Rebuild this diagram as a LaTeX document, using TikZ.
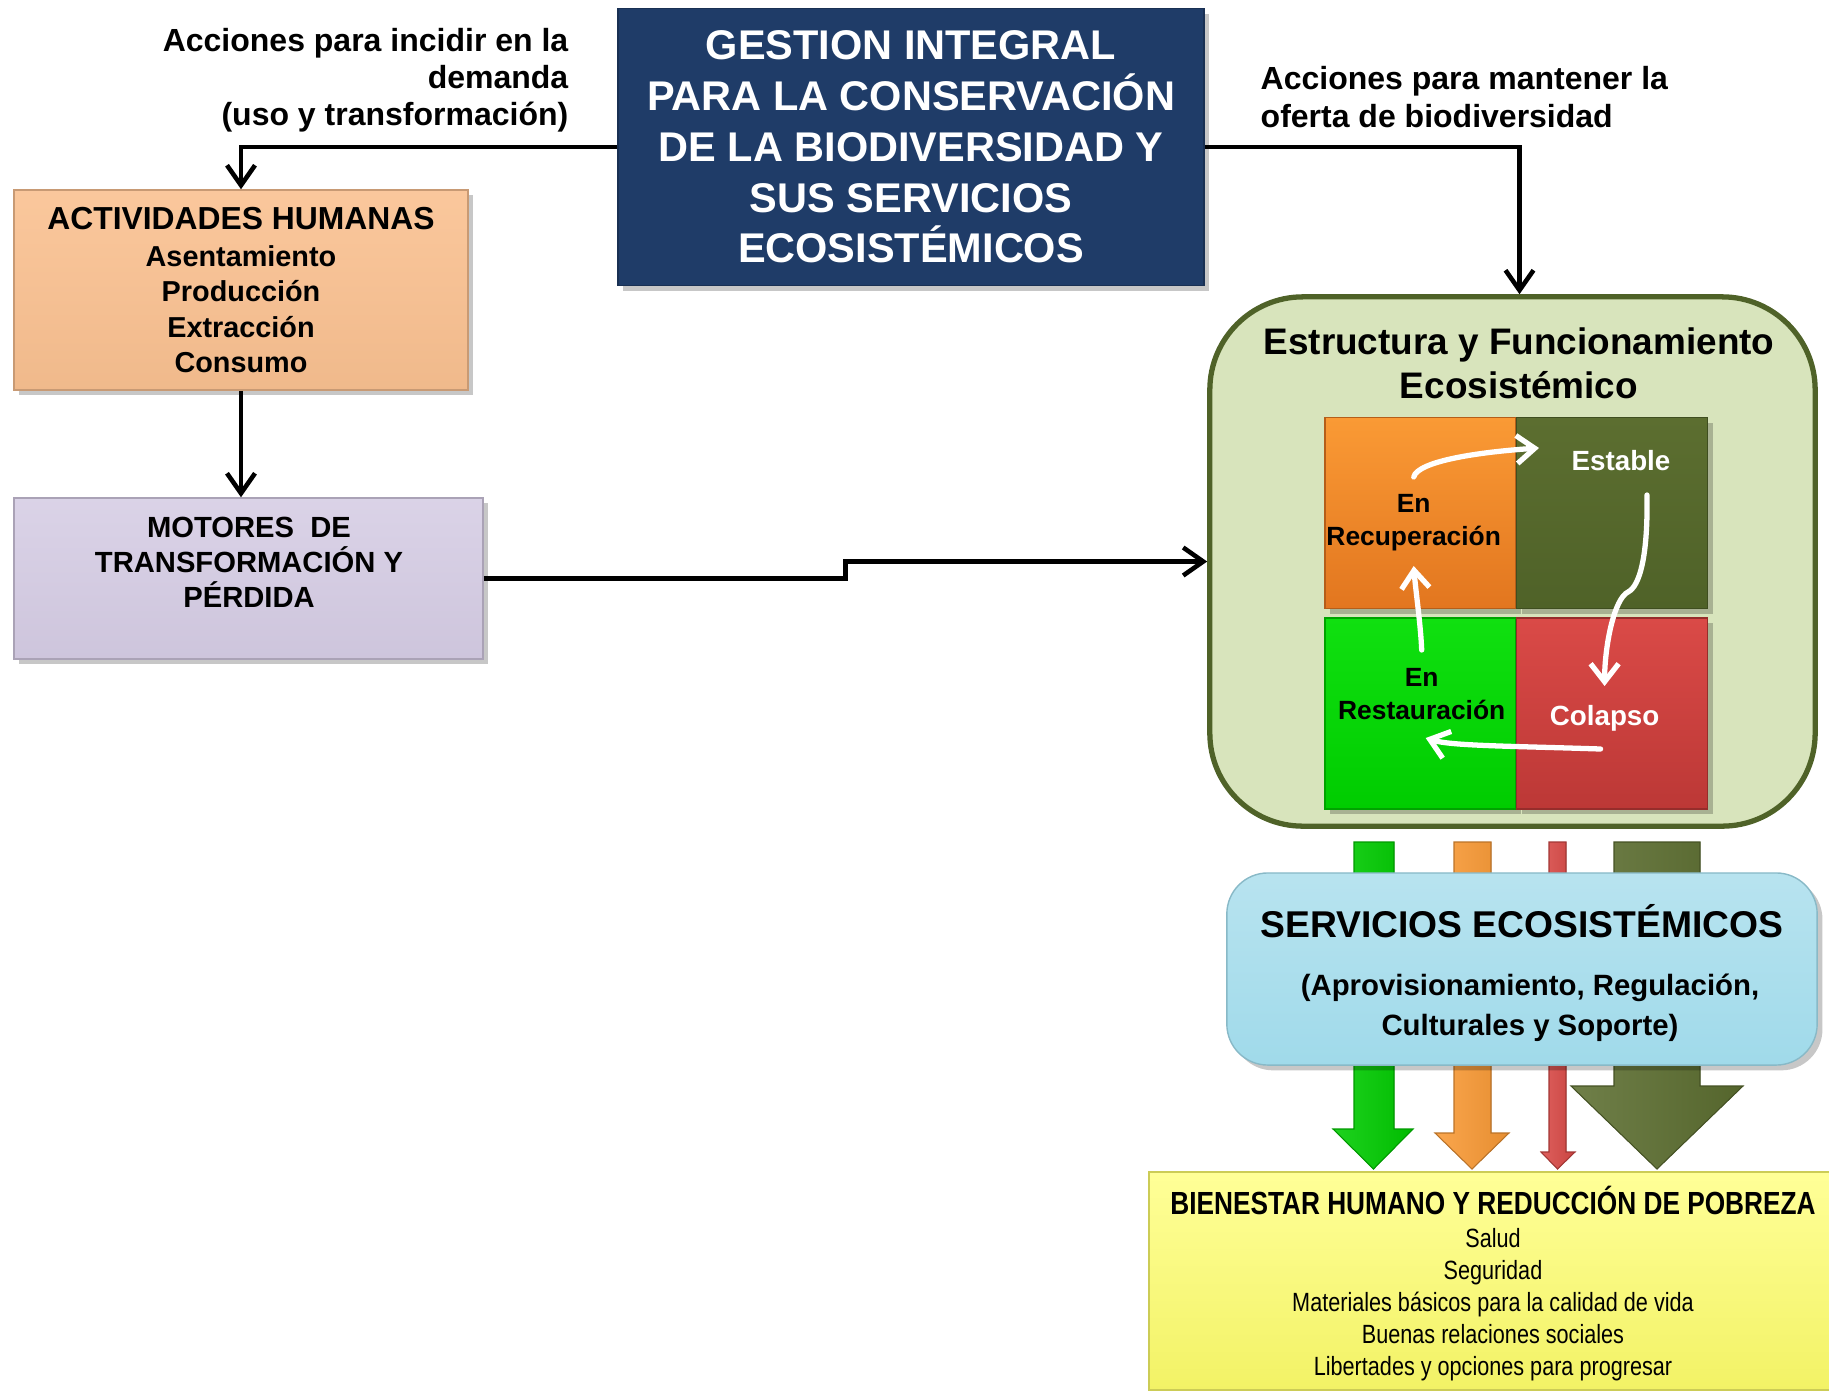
\documentclass[tikz,border=0pt]{standalone}
\usepackage{fontspec}
\setmainfont{Liberation Sans}
\newfontfamily\narrowfont{Liberation Sans}[FakeStretch=0.82]
\usetikzlibrary{arrows.meta,shadows,calc}
\newcommand\fsz[2]{\fontsize{#1}{#2}\selectfont}
\definecolor{navy}{HTML}{1F3C68}
\definecolor{peach}{HTML}{FAC191}
\definecolor{lav}{HTML}{D4CBE3}
\definecolor{ecofill}{HTML}{D8E4BC}
\definecolor{olive}{HTML}{4F6228}
\definecolor{oliveT}{HTML}{5C6E30}
\definecolor{orgT}{HTML}{FA9A35}
\definecolor{orgB}{HTML}{E2761F}
\definecolor{grnT}{HTML}{10E010}
\definecolor{grnB}{HTML}{00CC00}
\definecolor{redT}{HTML}{DA4A47}
\definecolor{redB}{HTML}{BC3836}
\definecolor{servc}{HTML}{A0DAEA}
\definecolor{yel}{HTML}{FFFF6B}
\begin{document}
\begin{tikzpicture}[x=0.01cm,y=-0.01cm,
  every node/.style={font=\bfseries, inner sep=0pt},
  shad/.style={drop shadow={shadow xshift=1.5pt,shadow yshift=-1.5pt,opacity=0.22,fill=black}},
  navybox/.style={shad, rectangle, fill=navy, draw=navy!80!black, text=white, align=center,
     minimum width=5.86cm, minimum height=2.77cm, font=\bfseries\fsz{11.8}{14.45}},
  actbox/.style={shad, rectangle, top color=peach!90!white, bottom color=peach!96!black, draw=peach!80!black, align=center,
     minimum width=4.54cm, minimum height=2.0cm, font=\bfseries\fsz{8.2}{10}},
  motbox/.style={shad, rectangle, top color=lav!85!white, bottom color=lav!97!black, draw=lav!80!black,
     minimum width=4.69cm, minimum height=1.61cm},
  ecobox/.style={rectangle, rounded corners=0.93cm, fill=ecofill, draw=olive, line width=1.5pt,
     minimum width=6.05cm, minimum height=5.29cm},
  tile/.style={shad, rectangle, minimum width=1.91cm, minimum height=1.91cm, line width=0.4pt},
  servbox/.style={shad, rectangle, rounded corners=0.41cm, top color=servc!75!white, bottom color=servc, draw=servc!85!black,
     minimum width=5.9cm, minimum height=1.92cm},
  yelbox/.style={rectangle, top color=yel!70!white, bottom color=yel!95!black, draw=yel!80!black,
     minimum width=6.8cm, minimum height=2.18cm},
  caption/.style={font=\bfseries\fsz{9.1}{10.6}},
  blk/.style={line width=1.3pt, -{Straight Barb[length=0.2cm,width=0.28cm]}},
  wht/.style={white, line width=1.5pt, line cap=round, -{Straight Barb[length=0.18cm,width=0.28cm]}},
  blockarrow/.style={draw=#1!75!black, line width=0.3pt, left color=#1!88!white, right color=#1!92!black, shading angle=90}
]
\useasboundingbox (0,0) rectangle (1829,1393);

% top management box
\node[navybox] (gest) at (911,147) {GESTION INTEGRAL\\PARA LA CONSERVACIÓN\\DE LA BIODIVERSIDAD Y\\SUS SERVICIOS\\ECOSISTÉMICOS};

% captions
\node[caption, anchor=east, align=right] (capL) at (569,80) {Acciones para incidir en la\\demanda\\(uso y transformación)};
\node[caption, anchor=west, align=left] (capR) at (1260,97) {Acciones para mantener la\\oferta de biodiversidad};

% left column
\node[actbox] (act) at (241,290) {{\fsz{9.05}{10}ACTIVIDADES HUMANAS}\\[0.5pt]Asentamiento\\Producción\\Extracción\\Consumo};
\node[motbox] (mot) at (248.5,578.5) {};
\node[align=center, font=\bfseries\fsz{8.3}{10}] (motT) at (249,562) {MOTORES\ \ DE\\TRANSFORMACIÓN Y\\PÉRDIDA};

% ecosystem box
\node[ecobox] (eco) at (1512.5,561.5) {};
\node[align=center, font=\bfseries\fsz{10.5}{12.5}] (ecoT) at (1519,363) {Estructura y Funcionamiento\\Ecosistémico};

\node[tile, top color=orgT, bottom color=orgB, draw=orgB!80!black] (sqO) at (1420.5,513) {};
\node[tile, top color=oliveT, bottom color=olive, draw=olive!80!black] (sqL) at (1612,513) {};
\node[tile, top color=grnT, bottom color=grnB, draw=grnB!80!black] (sqG) at (1420.5,713.5) {};
\node[tile, top color=redT, bottom color=redB, draw=redB!80!black] (sqR) at (1612,713.5) {};

\node[align=center, font=\bfseries\fsz{7.5}{9.3}] (recup) at (1413.7,523) {En\\Recuperación};
\node[text=white, font=\bfseries\fsz{7.9}{9.5}] (estab) at (1621,461) {Estable};
\node[align=center, font=\bfseries\fsz{7.5}{9.3}] (restau) at (1421.7,694) {En\\Restauración};
\node[text=white, font=\bfseries\fsz{7.9}{9.5}] (colap) at (1604.6,718) {Colapso};

% state cycle arrows
\draw[wht] ($(recup)+(0,-46)$) .. controls +(4,-16) and +(-60,4) .. ($(estab)+(-82,-13)$);
\draw[wht] ($(estab)+(26,34)$) .. controls +(1,60) and +(12,-6) .. ($(estab)+(7,131)$)
   .. controls +(-14,7) and +(0,-40) .. ($(colap)+(0,-32)$);
\draw[wht] ($(colap)+(-4,31)$) .. controls +(-90,-3) and +(25,8) .. ($(restau)+(4,44)$);
\draw[wht] ($(restau)+(0,-44)$) .. controls +(-1,-25) and +(2,25) .. ($(recup)+(0,43)$);

% block arrows (services flow)
\fill[blockarrow=grnB] (1354,842) -- (1394,842) -- (1394,1129) -- (1413,1129) -- (1373.5,1169) -- (1333,1129) -- (1354,1129) -- cycle;
\fill[blockarrow=orgT] (1454,842) -- (1491,842) -- (1491,1133) -- (1509,1133) -- (1472,1169) -- (1435,1133) -- (1454,1133) -- cycle;
\fill[blockarrow=redT] (1549,842) -- (1566,842) -- (1566,1152) -- (1575,1152) -- (1557.5,1169) -- (1541,1152) -- (1549,1152) -- cycle;
\fill[blockarrow=oliveT] (1614,842) -- (1700,842) -- (1700,1086) -- (1743,1086) -- (1657,1169) -- (1571,1086) -- (1614,1086) -- cycle;

% services box
\node[servbox] (serv) at (1522,969) {};
\node[font=\bfseries\fsz{10.6}{12}] (servT) at (1522,921) {SERVICIOS ECOSISTÉMICOS};
\node[align=center, font=\bfseries\fsz{8.35}{11.4}] (servS) at (1530,1008) {(Aprovisionamiento, Regulación,\\Culturales y Soporte)};

% wellbeing box
\node[yelbox] (bien) at (1489,1281) {};
\node[font=\narrowfont\bfseries\fsz{9.1}{10}] (bienT) at (1493,1200) {BIENESTAR HUMANO Y REDUCCIÓN DE POBREZA};
\node[align=center, font=\narrowfont\mdseries\fsz{7.5}{9.1}] (bienL) at (1493,1305) {Salud\\Seguridad\\Materiales básicos para la calidad de vida\\Buenas relaciones sociales\\Libertades y opciones para progresar};

% black connectors
\draw[blk] (gest.west) -| (act.north);
\draw[blk] (gest.east) -| ([xshift=0.07cm]eco.north);
\draw[blk] (act.south) -- (act.south |- mot.north);
\draw[blk] (mot.east) -| ($(mot.east)!0.5!(eco.west)$) |- (eco.west);
\end{tikzpicture}
\end{document}
